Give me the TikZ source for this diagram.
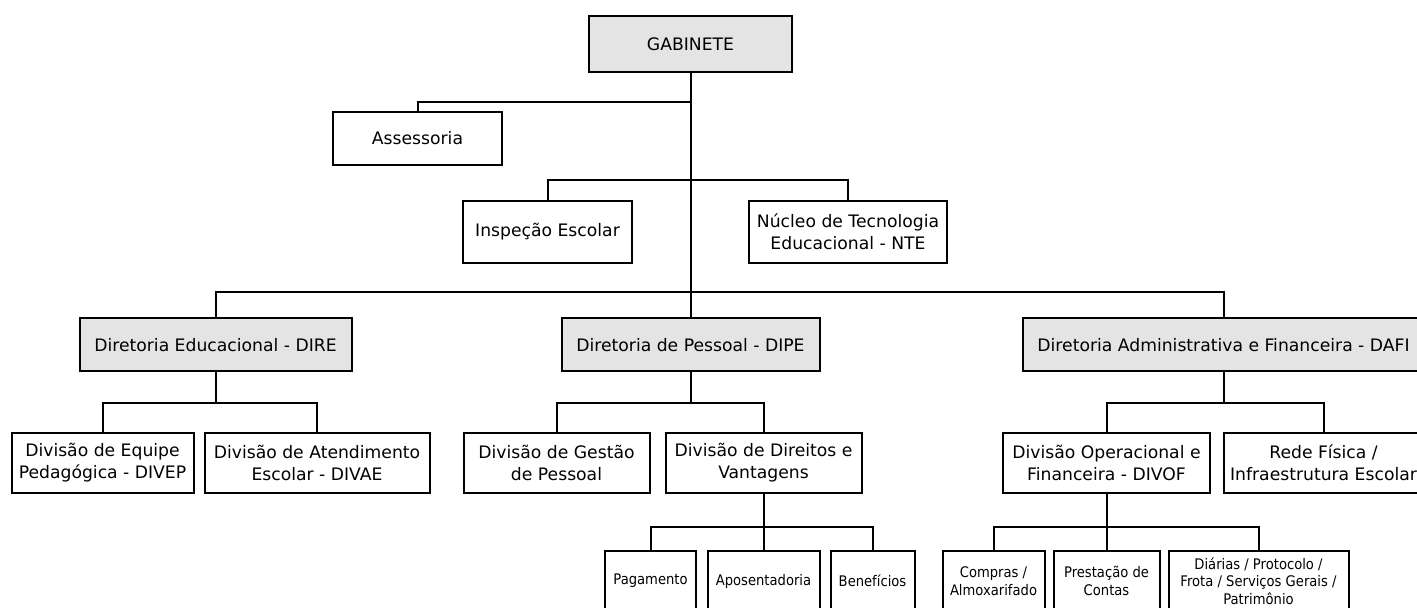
\documentclass[tikz,border=0pt]{standalone}
\usepackage{fontspec}
\setmainfont{DejaVu Sans}
\newfontfamily\leaffont[FakeStretch=0.9]{DejaVu Sans}
\usepackage{tikz}
\definecolor{headgray}{RGB}{228,228,228}
\tikzset{%
  % Specifications for style of nodes:
        base/.style = {rectangle, draw=black, line width=1pt,
                       inner sep=0pt, align=center,
                       font=\fontsize{8.6}{11}\selectfont},
   directory/.style = {base, fill=headgray},
    division/.style = {base},
     service/.style = {base, minimum height=30pt,
                       font=\leaffont\fontsize{7.3}{8.75}\selectfont},
        link/.style = {line width=1pt},
}

\begin{document}
\begin{tikzpicture}[x=0.5pt, y=-0.5pt, node distance=59pt]
  \clip (0,0) rectangle (1417,608);
  % Specification of nodes (position, etc.)
  \node (gab) [directory, minimum width=101.5pt, minimum height=28pt] at (690.5,44) {GABINETE};
  \node (assess) [division, below of=gab, xshift=-136.5pt, yshift=11.75pt,
    minimum width=84.5pt, minimum height=26.5pt] {Assessoria};
  \node (insp) [division, below of=gab, xshift=-71.5pt, yshift=-35pt,
    minimum width=84.5pt, minimum height=31pt] {Inspeção Escolar};
  \node (nte) [division, right of=insp, xshift=91.25pt,
    minimum width=99pt, minimum height=31pt] {Núcleo de Tecnologia\\Educacional - NTE};

  \node (dipe) [directory, below of=gab, yshift=-91.5pt,
    minimum width=129pt, minimum height=26.5pt] {Diretoria de Pessoal - DIPE};
  \node (dire) [directory, left of=dipe, xshift=-178.5pt,
    minimum width=136pt, minimum height=26.5pt] {Diretoria Educacional - DIRE};
  \node (dafi) [directory, right of=dipe, xshift=207.5pt,
    minimum width=201pt, minimum height=26.5pt] {Diretoria Administrativa e Financeira - DAFI};

  \node (divep) [division, below of=dire, xshift=-56.5pt,
    minimum width=91pt, minimum height=29.5pt] {Divisão de Equipe\\Pedagógica - DIVEP};
  \node (divae) [division, below of=dire, xshift=50.75pt,
    minimum width=112.5pt, minimum height=29.5pt] {Divisão de Atendimento\\Escolar - DIVAE};
  \node (gest) [division, below of=dipe, xshift=-67pt,
    minimum width=93pt, minimum height=29.5pt] {Divisão de Gestão\\de Pessoal};
  \node (dirv) [division, below of=dipe, xshift=36.5pt,
    minimum width=98pt, minimum height=29.5pt] {Divisão de Direitos e\\Vantagens};
  \node (divof) [division, below of=dafi, xshift=-58.5pt,
    minimum width=103.5pt, minimum height=29.5pt] {Divisão Operacional e\\Financeira - DIVOF};
  \node (rede) [division, below of=dafi, xshift=50pt,
    minimum width=100pt, minimum height=29.5pt] {Rede Física /\\Infraestrutura Escolar};

  \node (apos) [service, below of=dirv, minimum width=56pt] {Aposentadoria};
  \node (pag) [service, left of=apos, xshift=2.5pt, minimum width=45.5pt] {Pagamento};
  \node (ben) [service, right of=apos, xshift=-4.5pt, minimum width=42pt] {Benefícios};
  \node (prest) [service, below of=divof, minimum width=53pt] {Prestação de\\Contas};
  \node (comp) [service, left of=prest, xshift=2.5pt, minimum width=51pt] {Compras /\\Almoxarifado};
  \node (diar) [service, right of=prest, xshift=17pt, minimum width=90pt] {Diárias / Protocolo /\\Frota / Serviços Gerais /\\Patrimônio};

  % Specification of lines between nodes specified above
  \draw[link] (gab.south) -- (dipe.north);
  \draw[link] (gab.south) ++(0,29) -| (assess.north);
  \draw[link] (gab.south) ++(0,107) -| (insp.north);
  \draw[link] (gab.south) ++(0,107) -| (nte.north);
  \draw[link] (gab.south) ++(0,219) -| (dire.north);
  \draw[link] (gab.south) ++(0,219) -| (dafi.north);

  \draw[link] (dire.south) -- ++(0,30.5) -| (divep.north);
  \draw[link] (dire.south) -- ++(0,30.5) -| (divae.north);
  \draw[link] (dipe.south) -- ++(0,30.5) -| (gest.north);
  \draw[link] (dipe.south) -- ++(0,30.5) -| (dirv.north);
  \draw[link] (dafi.south) -- ++(0,30.5) -| (divof.north);
  \draw[link] (dafi.south) -- ++(0,30.5) -| (rede.north);

  \draw[link] (dirv.south) -- (apos.north);
  \draw[link] (dirv.south) -- ++(0,33.5) -| (pag.north);
  \draw[link] (dirv.south) -- ++(0,33.5) -| (ben.north);
  \draw[link] (divof.south) -- (prest.north);
  \draw[link] (divof.south) -- ++(0,33.5) -| (comp.north);
  \draw[link] (divof.south) -- ++(0,33.5) -| (diar.north);
\end{tikzpicture}
\end{document}
